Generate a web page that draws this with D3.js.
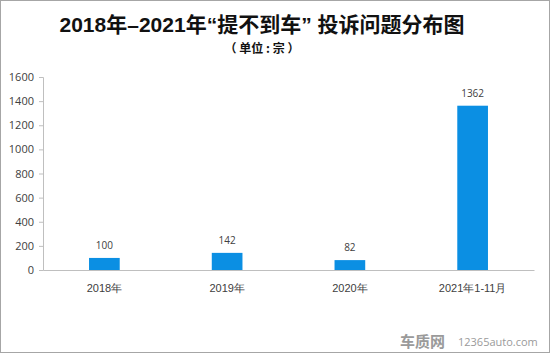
<!DOCTYPE html>
<html lang="zh">
<head>
<meta charset="utf-8">
<script src="https://d3js.org/d3.v7.min.js"></script>
<style>
  body { margin: 0; background: #fff; }
  svg { display: block; font-family: "Noto Sans CJK SC", "Open Sans", sans-serif; }
</style>
</head>
<body>
<script>
    const categories = ["2018年", "2019年", "2020年", "2021年1-11月"];
    const values = [100, 142, 82, 1362];
    const yTicks = [0, 200, 400, 600, 800, 1000, 1200, 1400, 1600];

    const width = 550, height = 353;
    const margin = { top: 77, right: 16, bottom: 83, left: 43 };

    const svg = d3.select("body").append("svg")
        .attr("width", width)
        .attr("height", height);

    // outer frame
    svg.append("rect")
        .attr("x", 0.5).attr("y", 0.5)
        .attr("width", width - 1).attr("height", height - 1)
        .attr("fill", "#fff")
        .attr("stroke", "#a6a6a6");

    // titles
    svg.append("text")
        .attr("x", 262).attr("y", 32)
        .attr("text-anchor", "middle")
        .style("font-size", "21px")
        .style("font-weight", "bold")
        .style("font-family", "'Liberation Sans', 'Noto Sans CJK SC', sans-serif")
        .attr("fill", "#111")
        .text("2018年–2021年“提不到车” 投诉问题分布图");

    svg.append("text")
        .attr("x", 262).attr("y", 53)
        .attr("text-anchor", "middle")
        .style("font-size", "12px")
        .style("font-weight", "bold")
        .attr("fill", "#111")
        .text("（ 单位 : 宗 ）");

    const x = d3.scaleBand()
        .domain(categories)
        .range([margin.left, width - margin.right])
        .paddingInner(0.75)
        .paddingOuter(0.375);

    const y = d3.scaleLinear()
        .domain([0, 1600])
        .range([height - margin.bottom, margin.top]);

    // y axis
    const yAxis = svg.append("g")
        .attr("transform", "translate(" + margin.left + ",0)")
        .call(d3.axisLeft(y).tickValues(yTicks).tickFormat(d3.format("d")).tickSize(4).tickPadding(5));
    yAxis.selectAll("path, line").attr("stroke", "#bfbfbf");
    yAxis.selectAll("text")
        .attr("fill", "#404040")
        .style("font-size", "11px")
        .style("font-family", "'Open Sans', sans-serif");

    // bars
    svg.selectAll(".bar")
        .data(values)
        .enter()
        .append("rect")
        .attr("class", "bar")
        .attr("x", (d, i) => x(categories[i]))
        .attr("y", d => y(d))
        .attr("width", x.bandwidth())
        .attr("height", d => y(0) - y(d))
        .attr("fill", "#0b8fe3");

    // value labels
    svg.selectAll(".val")
        .data(values)
        .enter()
        .append("text")
        .attr("class", "val")
        .attr("x", (d, i) => x(categories[i]) + x.bandwidth() / 2)
        .attr("y", d => y(d) - 9)
        .attr("text-anchor", "middle")
        .attr("fill", "#404040")
        .style("font-size", "10px")
        .style("font-family", "'Open Sans', sans-serif")
        .text(d => d);

    // x axis
    const xAxis = svg.append("g")
        .attr("transform", "translate(0," + y(0) + ")")
        .call(d3.axisBottom(x).tickSize(0).tickPadding(14));
    xAxis.select("path").attr("stroke", "#bfbfbf");
    xAxis.selectAll("text")
        .attr("fill", "#404040")
        .style("font-size", "11px");

    // watermark
    svg.append("text")
        .attr("x", 400).attr("y", 347)
        .attr("fill", "#9a9a9a")
        .style("font-size", "15px")
        .style("font-weight", "bold")
        .text("车质网");
    svg.append("text")
        .attr("x", 458).attr("y", 346)
        .attr("fill", "#9a9a9a")
        .style("font-size", "11px")
        .style("font-family", "'Open Sans', sans-serif")
        .text("12365auto.com");
</script>
</body>
</html>
